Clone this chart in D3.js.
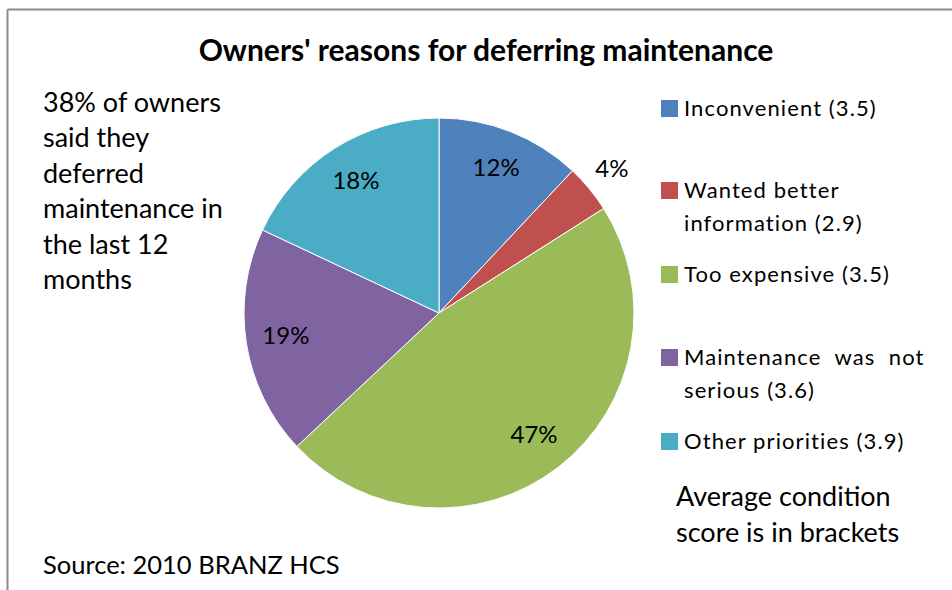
<!DOCTYPE html>
<html>
<head>
<meta charset="utf-8">
<script src="https://cdn.jsdelivr.net/npm/d3@7"></script>
<style>
  html, body { margin: 0; padding: 0; background: #fff; }
  svg { display: block; }
  text { font-family: Lato, "Open Sans", sans-serif; fill: #000; }
  .legend-text { white-space: pre; }
</style>
</head>
<body>
<svg id="chart" width="952" height="590"></svg>
<script>
// Reasons owners gave for deferring maintenance (share of owners who deferred)
const reasons = ["Inconvenient", "Wanted better information", "Too expensive",
                 "Maintenance was not serious", "Other priorities"];
const shares = [12, 4, 47, 19, 18];
const conditionScores = ["3.5", "2.9", "3.5", "3.6", "3.9"];
const colors = ["#4f81bd", "#c0504d", "#9bbb59", "#8064a2", "#4bacc6"];
// Legend wording, wrapped as in the key
const legendLines = [
  ["Inconvenient (3.5)"],
  ["Wanted better", "information (2.9)"],
  ["Too expensive (3.5)"],
  ["Maintenance  was  not", "serious (3.6)"],
  ["Other priorities (3.9)"]
];
const noteLines = ["38% of owners", "said they", "deferred", "maintenance in", "the last 12", "months"];

const svg = d3.select("#chart");

// Frame lines (top and left)
svg.append("line").attr("x1", 7.5).attr("x2", 952).attr("y1", 9.5).attr("y2", 9.5)
  .attr("stroke", "#8c8c8c").attr("stroke-width", 2);
svg.append("line").attr("x1", 7.5).attr("x2", 7.5).attr("y1", 9.5).attr("y2", 590)
  .attr("stroke", "#8c8c8c").attr("stroke-width", 2);

// Title
svg.append("text").attr("x", 486).attr("y", 61).attr("text-anchor", "middle")
  .style("font-size", "30px").style("font-weight", "bold")
  .text("Owners' reasons for deferring maintenance");

// Pie
const cx = 439, cy = 313, r = 195;
const pie = d3.pie().sort(null).value(d => d.value);
const arcs = pie(shares.map((v, i) => ({ value: v, i })));
const arc = d3.arc().innerRadius(0).outerRadius(r);
const g = svg.append("g").attr("transform", `translate(${cx},${cy})`);
g.selectAll("path").data(arcs).join("path")
  .attr("d", arc)
  .attr("fill", d => colors[d.data.i])
  .attr("stroke", "#fff").attr("stroke-width", 1);

// Percentage labels; the smallest slice is labelled outside the pie
const inner = d3.arc().innerRadius(r * 0.795).outerRadius(r * 0.795);
const outer = d3.arc().innerRadius(r * 1.15).outerRadius(r * 1.15);
g.selectAll("text.pct").data(arcs).join("text")
  .attr("class", "pct")
  .attr("transform", d => `translate(${(d.data.value < 6 ? outer : inner).centroid(d)})`)
  .attr("text-anchor", "middle").attr("dy", "0.3em")
  .style("font-size", "24px")
  .text(d => d.data.value + "%");

// Side note
const note = svg.append("text").style("font-size", "27px");
noteLines.forEach((t, k) => {
  note.append("tspan").attr("x", 43).attr("y", 112 + k * 35.4).text(t);
});

// Legend
const legendY = [108, 190, 274, 357, 441];
const lg = svg.append("g");
reasons.forEach((name, i) => {
  lg.append("rect").attr("x", 661).attr("y", legendY[i] - 8).attr("width", 17).attr("height", 17)
    .attr("fill", colors[i]);
  const t = lg.append("text").attr("class", "legend-text")
    .style("font-size", "22px").style("letter-spacing", "1.1px");
  legendLines[i].forEach((line, k) => {
    t.append("tspan").attr("x", 684).attr("y", legendY[i] + 8 + k * 32.5).text(line);
  });
});

// Footnotes
const avg = svg.append("text").style("font-size", "27px");
avg.append("tspan").attr("x", 676).attr("y", 506).text("Average condition");
avg.append("tspan").attr("x", 676).attr("y", 542).text("score is in brackets");

svg.append("text").attr("x", 43).attr("y", 574).style("font-size", "25.5px")
  .text("Source: 2010 BRANZ HCS");
</script>
</body>
</html>
